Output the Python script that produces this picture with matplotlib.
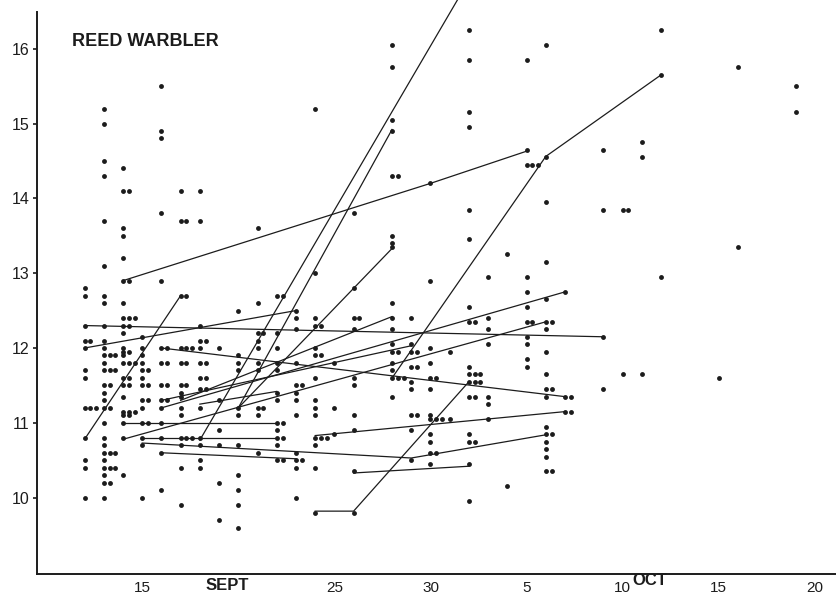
from matplotlib import pyplot as plt

# weights (g) of reed warblers caught each day
# x axis is days: Sept days as-is, Oct days as 30 + day
sep12 = [12.8, 12.7, 12.3, 12.1, 12.1, 12.0, 11.7, 11.6, 11.2, 11.2, 11.2, 10.8, 10.5, 10.4, 10.0]
sep13 = [15.2, 15.0, 14.5, 14.3, 13.7, 13.1, 12.7, 12.6, 12.3, 12.1, 12.0, 11.9, 11.9, 11.9,
         11.8, 11.7, 11.7, 11.7, 11.5, 11.5, 11.4, 11.3, 11.2, 11.2, 11.0, 10.8, 10.7, 10.6,
         10.6, 10.6, 10.5, 10.4, 10.4, 10.4, 10.3, 10.2, 10.2, 10.0]
sep14 = [14.4, 14.1, 14.1, 13.6, 13.5, 13.2, 12.9, 12.9, 12.6, 12.4, 12.4, 12.4, 12.3, 12.3,
         12.2, 12.0, 11.95, 11.95, 11.9, 11.8, 11.8, 11.8, 11.6, 11.6, 11.5, 11.5, 11.35,
         11.15, 11.15, 11.15, 11.1, 11.1, 11.0, 10.8, 10.3]
sep15 = [12.15, 12.0, 11.9, 11.8, 11.7, 11.7, 11.6, 11.5, 11.5, 11.3, 11.3, 11.2, 11.0, 11.0,
         10.8, 10.7, 10.0]
sep16 = [15.5, 14.9, 14.8, 13.8, 12.9, 12.0, 12.0, 11.8, 11.8, 11.5, 11.5, 11.3, 11.3, 11.2,
         11.0, 10.8, 10.6, 10.1]
sep17 = [14.1, 13.7, 13.7, 12.7, 12.7, 12.0, 12.0, 12.0, 11.8, 11.8, 11.5, 11.5, 11.4, 11.35,
         11.2, 11.1, 10.8, 10.8, 10.8, 10.7, 10.4, 9.9]
sep18 = [14.1, 13.7, 12.3, 12.1, 12.1, 12.0, 11.8, 11.8, 11.6, 11.6, 11.45, 11.45, 11.2, 10.8,
         10.7, 10.5, 10.4]
sep19 = [12.0, 11.3, 10.9, 10.7, 10.2, 9.7]
sep20 = [12.5, 11.9, 11.8, 11.7, 11.2, 11.1, 10.7, 10.3, 10.1, 9.9, 9.6]
sep21 = [13.6, 12.6, 12.2, 12.2, 12.1, 12.0, 11.8, 11.7, 11.2, 11.2, 11.1, 10.6]
sep22 = [12.7, 12.7, 12.2, 12.0, 11.8, 11.7, 11.4, 11.3, 11.0, 11.0, 10.9, 10.8, 10.8, 10.7,
         10.5, 10.5]
sep23 = [12.5, 12.4, 12.25, 11.8, 11.5, 11.5, 11.4, 11.3, 11.1, 10.6, 10.5, 10.5, 10.4, 10.0]
sep24 = [15.2, 13.0, 12.4, 12.3, 12.3, 12.0, 11.9, 11.9, 11.6, 11.3, 11.2, 11.1, 10.8, 10.8,
         10.8, 10.7, 10.4, 9.8]
sep25 = [11.8, 11.2, 10.85]
sep26 = [13.8, 12.8, 12.4, 12.4, 12.25, 11.6, 11.5, 11.1, 10.9, 10.35, 9.8]
sep28 = [16.05, 15.75, 15.05, 14.9, 14.3, 14.3, 13.5, 13.4, 13.35, 12.6, 12.4, 12.25, 12.05,
         11.95, 11.95, 11.8, 11.7, 11.6, 11.6, 11.6, 11.35]
sep29 = [12.4, 12.05, 11.95, 11.95, 11.75, 11.75, 11.55, 11.45, 11.1, 11.1, 10.9, 10.5]
sep30 = [14.2, 12.9, 12.0, 11.8, 11.6, 11.6, 11.45, 11.1, 11.05, 11.05, 11.05, 10.85, 10.75,
         10.6, 10.6, 10.45]
oct01 = [11.95, 11.05]
oct02 = [16.25, 15.85, 15.15, 14.95, 13.85, 13.45, 12.55, 12.35, 12.35, 11.75, 11.65, 11.65,
         11.65, 11.55, 11.55, 11.55, 11.35, 11.35, 10.85, 10.75, 10.75, 10.45, 9.95]
oct03 = [12.95, 12.4, 12.25, 12.05, 11.35, 11.25, 11.05]
oct04 = [13.25, 10.15]
oct05 = [15.85, 14.65, 14.45, 14.45, 14.45, 12.95, 12.75, 12.55, 12.35, 12.35, 12.15, 12.05,
         11.85, 11.75]
oct06 = [16.05, 14.55, 13.95, 13.15, 12.65, 12.35, 12.35, 12.25, 11.95, 11.65, 11.45, 11.45,
         11.35, 10.95, 10.85, 10.85, 10.75, 10.65, 10.55, 10.35, 10.35]
oct07 = [12.75, 11.35, 11.35, 11.15, 11.15]
oct09 = [14.65, 13.85, 12.15, 11.45]
oct10 = [13.85, 13.85, 11.65]
oct11 = [14.75, 14.55, 11.65]
oct12 = [16.25, 15.65, 12.95]
oct15 = [11.6]
oct16 = [15.75, 13.35]
oct19 = [15.5, 15.15]

catch_days = [12, 13, 14, 15, 16, 17, 18, 19, 20, 21, 22, 23, 24, 25, 26, 28, 29, 30,
              31, 32, 33, 34, 35, 36, 37, 39, 40, 41, 42, 45, 46, 49]
catch_weights = [sep12, sep13, sep14, sep15, sep16, sep17, sep18, sep19, sep20, sep21,
                 sep22, sep23, sep24, sep25, sep26, sep28, sep29, sep30, oct01, oct02,
                 oct03, oct04, oct05, oct06, oct07, oct09, oct10, oct11, oct12, oct15,
                 oct16, oct19]

# retrapped birds: (day, weight) at each capture
bird_a = [(12, 10.78), (17, 12.7)]
bird_b = [(12, 12.3), (39, 12.15)]
bird_c = [(12, 12.0), (23, 12.5)]
bird_d = [(14, 12.9), (30, 14.2), (35, 14.63)]
bird_e = [(28, 11.6), (36, 14.56), (42, 15.65)]
bird_f = [(24, 9.82), (26, 9.82), (32, 11.55)]
bird_g = [(18, 10.77), (31.4, 16.65)]
bird_h = [(20, 11.2), (28, 14.92)]
bird_i = [(20, 11.2), (28, 13.33)]
bird_j = [(16, 12.0), (37, 11.35)]
bird_k = [(16, 11.2), (37, 12.75)]
bird_l = [(17, 11.3), (28, 12.42)]
bird_m = [(16, 11.3), (29, 12.03)]
bird_n = [(14, 10.78), (36, 12.35)]
bird_o = [(24, 10.83), (37, 11.15)]
bird_p = [(15, 10.73), (29, 10.53), (36, 10.84)]
bird_q = [(26, 10.33), (32, 10.42)]
bird_r = [(14, 11.0), (22, 11.0)]
bird_s = [(15, 10.8), (22, 10.8)]
bird_t = [(16, 10.6), (23, 10.52)]
bird_u = [(18, 11.25), (22, 11.42)]
birds = [bird_a, bird_b, bird_c, bird_d, bird_e, bird_f, bird_g, bird_h, bird_i, bird_j,
         bird_k, bird_l, bird_m, bird_n, bird_o, bird_p, bird_q, bird_r, bird_s, bird_t,
         bird_u]

tick_days = [15, 25, 30, 35, 40, 45, 50]
tick_text = ["15", "25", "30", "5", "10", "15", "20"]
ytick_vals = [10, 11, 12, 13, 14, 15, 16]

plt.rcParams["font.family"] = ["Liberation Sans Narrow", "Liberation Sans", "DejaVu Sans"]
ink = "#1c1c1c"

fig = plt.figure(figsize=(8.36, 5.97), dpi=100)
ax = fig.add_axes([36.5 / 836, 23 / 597, 799.5 / 836, 562 / 597])

for day, weights in zip(catch_days, catch_weights):
    # birds with the same weight on one day sit side by side
    seen = {}
    xs = []
    for w in weights:
        k = seen.get(w, 0)
        seen[w] = k + 1
        xs.append(day + 0.3 * k)
    ax.plot(xs, weights, "o", ms=3.5, color=ink, mec="none")

for b in birds:
    d, w = zip(*b)
    ax.plot(d, w, "-", lw=0.9, color=ink, clip_on=False)

ax.set_xlim(9.5, 51.1)
ax.set_ylim(8.98, 16.49)
ax.spines["top"].set_visible(False)
ax.spines["right"].set_visible(False)
for s in ["left", "bottom"]:
    ax.spines[s].set_linewidth(1.4)
    ax.spines[s].set_color(ink)

ax.set_xticks(tick_days, tick_text)
ax.set_yticks(ytick_vals)
ax.tick_params(axis="x", length=0, pad=5, labelsize=11, colors=ink)
ax.tick_params(axis="y", length=3, width=1.2, pad=2, labelsize=11.5, colors=ink)

ax.text(19.4, -0.021, "SEPT", transform=ax.get_xaxis_transform(), ha="center", va="center",
        fontsize=12, fontweight="bold", family="Liberation Sans", color=ink)
ax.text(40.5, -0.011, "OCT", transform=ax.get_xaxis_transform(), ha="left", va="center",
        fontsize=12, fontweight="bold", family="Liberation Sans", color=ink)
ax.text(11.35, 16.09, "REED WARBLER", ha="left", va="center", fontsize=13,
        fontweight="bold", family="Liberation Sans", color=ink)

fig.savefig("out.png", dpi=100, facecolor="white")
